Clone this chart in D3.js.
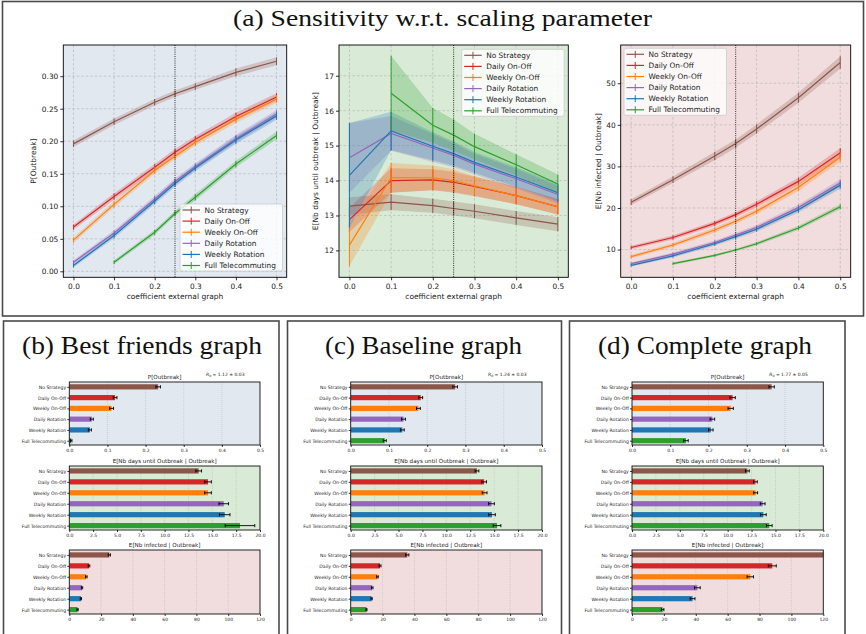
<!DOCTYPE html>
<html><head><meta charset="utf-8">
<script src="https://cdn.jsdelivr.net/npm/d3@7"></script>
<style>body{margin:0;background:#fff} svg{display:block}</style>
</head><body>
<svg id="c" width="866" height="634"></svg>
<script>
// ---------------- DATA ----------------
const strategies = ["No Strategy","Daily On-Off","Weekly On-Off","Daily Rotation","Weekly Rotation","Full Telecommuting"];
const colors = ["#8c564b","#d62728","#ff7f0e","#9467bd","#1f77b4","#2ca02c"];
const coefX = [0,0.1,0.2,0.25,0.3,0.4,0.5];
const coefTicks = [0,0.1,0.2,0.3,0.4,0.5];

const sensP = [
 [0.196,0.230,0.260,0.273,0.284,0.306,0.323],
 [0.068,0.115,0.160,0.183,0.203,0.238,0.268],
 [0.048,0.103,0.155,0.177,0.198,0.234,0.265],
 [0.014,0.059,0.111,0.138,0.161,0.204,0.242],
 [0.009,0.055,0.108,0.135,0.159,0.202,0.239],
 [null,0.014,0.060,0.089,0.114,0.165,0.209]];
const sensPErr = [
 [0.005,0.005,0.005,0.005,0.005,0.006,0.006],
 [0.004,0.005,0.005,0.005,0.005,0.006,0.006],
 [0.004,0.005,0.005,0.005,0.005,0.006,0.006],
 [0.003,0.004,0.005,0.005,0.005,0.006,0.006],
 [0.003,0.004,0.005,0.005,0.005,0.006,0.006],
 [null,0.003,0.004,0.004,0.005,0.005,0.006]];

const sensDays = [
 [13.27,13.38,13.28,13.20,13.12,12.93,12.75],
 [12.88,14.00,14.02,13.95,13.83,13.57,13.25],
 [12.15,14.08,14.08,14.00,13.85,13.57,13.25],
 [14.65,15.35,14.93,14.72,14.47,14.05,13.60],
 [14.15,15.42,14.98,14.77,14.52,14.10,13.65],
 [null,16.50,15.58,15.30,14.97,14.45,13.90]];
const sensDaysErr = [
 [0.25,0.23,0.20,0.20,0.20,0.20,0.20],
 [0.35,0.35,0.30,0.30,0.28,0.25,0.22],
 [0.60,0.42,0.35,0.32,0.28,0.25,0.22],
 [1.00,0.50,0.40,0.35,0.30,0.28,0.25],
 [1.50,0.55,0.40,0.35,0.30,0.28,0.25],
 [null,1.07,0.50,0.45,0.37,0.30,0.27]];

const sensInf = [
 [21.4,26.8,32.5,35.5,39.0,46.5,55.0],
 [10.5,12.9,16.3,18.4,20.9,26.4,33.3],
 [8.3,11.1,14.7,16.8,19.2,25.0,32.2],
 [6.6,8.9,11.7,13.5,15.3,20.1,26.0],
 [6.2,8.5,11.4,13.1,14.9,19.6,25.5],
 [null,6.6,8.6,9.9,11.4,15.2,20.3]];
const sensInfErr = [
 [0.7,0.8,1.0,1.0,1.1,1.2,1.5],
 [0.4,0.5,0.6,0.6,0.7,0.9,1.1],
 [0.4,0.5,0.6,0.6,0.7,0.9,1.1],
 [0.3,0.4,0.5,0.5,0.6,0.7,0.9],
 [0.3,0.4,0.5,0.5,0.6,0.7,0.9],
 [null,0.3,0.3,0.3,0.4,0.5,0.6]];

// bar charts
const bfP = [0.233,0.120,0.111,0.059,0.054,0.005];
const bfPErr = [0.006,0.005,0.005,0.004,0.004,0.002];
const bfDays = [13.57,14.55,14.55,16.2,16.3,17.9];
const bfDaysErr = [0.3,0.35,0.35,0.5,0.55,1.55];
const bfInf = [25.2,12.4,10.7,8.0,7.3,5.2];
const bfInfErr = [0.7,0.5,0.5,0.4,0.4,0.4];

const blP = [0.273,0.183,0.177,0.138,0.135,0.089];
const blPErr = [0.006,0.005,0.005,0.005,0.005,0.004];
const blDays = [13.2,13.95,14.0,14.72,14.77,15.3];
const blDaysErr = [0.2,0.25,0.25,0.3,0.35,0.4];
const blInf = [35.5,18.4,16.8,13.5,13.1,9.9];
const blInfErr = [1.0,0.6,0.5,0.5,0.4,0.3];

const cpP = [0.365,0.263,0.258,0.210,0.206,0.141];
const cpPErr = [0.007,0.007,0.007,0.006,0.006,0.006];
const cpDays = [12.06,12.9,12.93,13.66,13.73,14.35];
const cpDaysErr = [0.2,0.2,0.2,0.25,0.3,0.3];
const cpInf = [150,88.0,74.2,41.0,38.0,19.2];
const cpInfErr = [0,2.5,2.0,1.8,1.5,0.8];

const pTicks = [0,0.1,0.2,0.3,0.4,0.5];
const daysTicks = [0,2.5,5,7.5,10,12.5,15,17.5,20];
const infTicks = [0,20,40,60,80,100,120];

// ---------------- DRAW ----------------
const svg = d3.select("#c");
const FONT = "DejaVu Sans, sans-serif";
const SERIF = "Liberation Serif, DejaVu Serif, serif";
const BG_BLUE = "#e2e8f0", BG_GREEN = "#d9ebd6", BG_PINK = "#f1dddd";
let clipId = 0;

// frames
svg.append("rect").attr("x",2.5).attr("y",1.5).attr("width",861).attr("height",314.5)
  .attr("fill","none").attr("stroke","#4a4a4a").attr("stroke-width",1.6);
[[3.5,279],[287.5,561.5],[569.5,845]].forEach(([a,b])=>{
  svg.append("rect").attr("x",a).attr("y",321).attr("width",b-a).attr("height",330)
    .attr("fill","none").attr("stroke","#4a4a4a").attr("stroke-width",1.6);
});

svg.append("text").attr("x",233).attr("y",26).attr("font-family",SERIF).attr("font-size",24)
  .attr("textLength",419).attr("lengthAdjust","spacingAndGlyphs").attr("fill","#111")
  .text("(a) Sensitivity w.r.t. scaling parameter");
[["(b) Best friends graph",22,240],["(c) Baseline graph",325,197],["(d) Complete graph",598,214]].forEach(([t,x,w])=>{
  svg.append("text").attr("x",x).attr("y",354).attr("font-family",SERIF).attr("font-size",25)
    .attr("textLength",w).attr("lengthAdjust","spacingAndGlyphs").attr("fill","#111").text(t);
});

function styleAxis(ax, fs){
  ax.select(".domain").remove();
  ax.selectAll("text").attr("font-size",fs).attr("font-family",FONT).attr("fill","#222");
  ax.selectAll("line").attr("stroke","#000").attr("stroke-width",0.8);
}

function linePanel(c){
  const x = d3.scaleLinear().domain([-0.025,0.525]).range([c.x0,c.x1]);
  const y = d3.scaleLinear().domain(c.yDomain).range([c.y1,c.y0]);
  const g = svg.append("g");
  const id = "clip"+(clipId++);
  g.append("clipPath").attr("id",id).append("rect")
    .attr("x",c.x0).attr("y",c.y0).attr("width",c.x1-c.x0).attr("height",c.y1-c.y0);
  g.append("rect").attr("x",c.x0).attr("y",c.y0).attr("width",c.x1-c.x0).attr("height",c.y1-c.y0).attr("fill",c.bg);
  const pg = g.append("g").attr("clip-path",`url(#${id})`);
  pg.selectAll(".gx").data(coefTicks).join("line").attr("x1",d=>x(d)).attr("x2",d=>x(d))
    .attr("y1",c.y0).attr("y2",c.y1).attr("stroke","#b0b0b0").attr("stroke-width",0.6).attr("stroke-dasharray","2.5,2");
  pg.selectAll(".gy").data(c.yTicks).join("line").attr("y1",d=>y(d)).attr("y2",d=>y(d))
    .attr("x1",c.x0).attr("x2",c.x1).attr("stroke","#b0b0b0").attr("stroke-width",0.6).attr("stroke-dasharray","2.5,2");
  const series = c.vals.map((s,i)=>coefX.map((cx,j)=>({cx, v:s[j], e:c.errs[i][j]})).filter(p=>p.v!=null));
  const area = d3.area().x(d=>x(d.cx)).y0(d=>y(d.v-d.e)).y1(d=>y(d.v+d.e));
  const line = d3.line().x(d=>x(d.cx)).y(d=>y(d.v));
  series.forEach((pts,i)=>{
    pg.append("path").attr("d",area(pts)).attr("fill",colors[i]).attr("fill-opacity",0.25);
  });
  series.forEach((pts,i)=>{
    pg.append("path").attr("d",line(pts)).attr("fill","none").attr("stroke",colors[i]).attr("stroke-width",1.2);
    pg.selectAll(null).data(pts).join("line").attr("x1",d=>x(d.cx)).attr("x2",d=>x(d.cx))
      .attr("y1",d=>y(d.v-d.e)).attr("y2",d=>y(d.v+d.e)).attr("stroke",colors[i]).attr("stroke-width",1);
  });
  pg.append("line").attr("x1",x(0.25)).attr("x2",x(0.25)).attr("y1",c.y0).attr("y2",c.y1)
    .attr("stroke","#000").attr("stroke-width",0.8).attr("stroke-dasharray","1,1.2");
  g.append("rect").attr("x",c.x0).attr("y",c.y0).attr("width",c.x1-c.x0).attr("height",c.y1-c.y0)
    .attr("fill","none").attr("stroke","#000").attr("stroke-width",0.9);
  const ax = g.append("g").attr("transform",`translate(0,${c.y1})`)
    .call(d3.axisBottom(x).tickValues(coefTicks).tickSize(3).tickPadding(3).tickFormat(d3.format(".1f")));
  styleAxis(ax,7.4);
  const ay = g.append("g").attr("transform",`translate(${c.x0},0)`)
    .call(d3.axisLeft(y).tickValues(c.yTicks).tickSize(3).tickPadding(2).tickFormat(d3.format(c.fmt)));
  styleAxis(ay,7.4);
  g.append("text").attr("x",(c.x0+c.x1)/2).attr("y",299).attr("text-anchor","middle")
    .attr("font-family",FONT).attr("font-size",7.5).attr("fill","#222").text("coefficient external graph");
  g.append("text").attr("transform",`translate(${c.ylx},${(c.y0+c.y1)/2}) rotate(-90)`).attr("text-anchor","middle")
    .attr("font-family",FONT).attr("font-size",7.5).attr("fill","#222").text(c.ylabel);
  // legend
  const L = c.legX, T = c.legY;
  const lg = g.append("g");
  lg.append("rect").attr("x",L).attr("y",T).attr("width",102.5).attr("height",67).attr("rx",2)
    .attr("fill","#fff").attr("fill-opacity",0.8).attr("stroke","#ccc").attr("stroke-width",0.8);
  strategies.forEach((s,i)=>{
    const cy = T+6+i*11.1;
    lg.append("line").attr("x1",L+2.5).attr("x2",L+20).attr("y1",cy).attr("y2",cy).attr("stroke",colors[i]).attr("stroke-width",1.2);
    lg.append("line").attr("x1",L+11.25).attr("x2",L+11.25).attr("y1",cy-3.5).attr("y2",cy+3.5).attr("stroke",colors[i]).attr("stroke-width",1);
    lg.append("text").attr("x",L+24.5).attr("y",cy).attr("dy","0.35em").attr("font-family",FONT)
      .attr("font-size",7.4).attr("fill","#222").text(s);
  });
}

linePanel({x0:63.3,x1:286.7,y0:45,y1:277.3,yDomain:[-0.0092,0.348],yTicks:[0,0.05,0.1,0.15,0.2,0.25,0.3],fmt:".2f",
  vals:sensP,errs:sensPErr,bg:BG_BLUE,ylabel:"P[Outbreak]",ylx:35.5,legX:180,legY:204});
linePanel({x0:339,x1:568.3,y0:45,y1:277.3,yDomain:[11.23,17.88],yTicks:[12,13,14,15,16,17],fmt:"d",
  vals:sensDays,errs:sensDaysErr,bg:BG_GREEN,ylabel:"E[Nb days until outbreak | Outbreak]",ylx:318,legX:461.7,legY:49.3});
linePanel({x0:620.7,x1:850.7,y0:45,y1:277.3,yDomain:[3.33,59.2],yTicks:[10,20,30,40,50],fmt:"d",
  vals:sensInf,errs:sensInfErr,bg:BG_PINK,ylabel:"E[Nb infected | Outbreak]",ylx:600.5,legX:624,legY:48.3});

function barPanel(c){
  const x = d3.scaleLinear().domain([0,c.xmax]).range([c.x0,c.x1]);
  const y = d3.scaleLinear().domain([-0.45,5.4]).range([c.y0,c.y1]);
  const g = svg.append("g");
  const id = "clip"+(clipId++);
  g.append("clipPath").attr("id",id).append("rect")
    .attr("x",c.x0).attr("y",c.y0).attr("width",c.x1-c.x0).attr("height",c.y1-c.y0);
  g.append("rect").attr("x",c.x0).attr("y",c.y0).attr("width",c.x1-c.x0).attr("height",c.y1-c.y0).attr("fill",c.bg);
  const pg = g.append("g").attr("clip-path",`url(#${id})`);
  pg.selectAll(null).data(c.ticks).join("line").attr("x1",d=>x(d)).attr("x2",d=>x(d))
    .attr("y1",c.y0).attr("y2",c.y1).attr("stroke","#b8bcc4").attr("stroke-width",0.6).attr("stroke-dasharray","1,1");
  pg.selectAll(null).data(c.vals).join("rect").attr("x",c.x0).attr("y",(d,i)=>y(i)-2.6)
    .attr("width",d=>x(d)-c.x0).attr("height",5.2).attr("fill",(d,i)=>colors[i]);
  c.vals.forEach((v,i)=>{
    const e = c.errs[i]; if(!e) return;
    const yy = y(i);
    pg.append("line").attr("x1",x(v-e)).attr("x2",x(v+e)).attr("y1",yy).attr("y2",yy).attr("stroke","#000").attr("stroke-width",0.9);
    [v-e,v+e].forEach(t=>pg.append("line").attr("x1",x(t)).attr("x2",x(t)).attr("y1",yy-1.6).attr("y2",yy+1.6).attr("stroke","#000").attr("stroke-width",0.9));
  });
  g.append("rect").attr("x",c.x0).attr("y",c.y0).attr("width",c.x1-c.x0).attr("height",c.y1-c.y0)
    .attr("fill","none").attr("stroke","#111").attr("stroke-width",0.9);
  const ax = g.append("g").attr("transform",`translate(0,${c.y1})`)
    .call(d3.axisBottom(x).tickValues(c.ticks).tickSize(2).tickPadding(1.5).tickFormat(d3.format(c.fmt)));
  styleAxis(ax,4.5);
  const ay = g.append("g").attr("transform",`translate(${c.x0},0)`)
    .call(d3.axisLeft(y).tickValues([0,1,2,3,4,5]).tickSize(2).tickPadding(1.2).tickFormat(i=>strategies[i]));
  styleAxis(ay,4.6);
  g.append("text").attr("x",(c.x0+c.x1)/2).attr("y",c.y0-2.8).attr("text-anchor","middle")
    .attr("font-family",FONT).attr("font-size",5.6).attr("fill","#222").text(c.title);
  if(c.r0){
    const t = g.append("text").attr("x",c.x1-15.5).attr("y",c.y0-6.5).attr("text-anchor","end")
      .attr("font-family",FONT).attr("font-size",4.5).attr("fill","#222");
    t.append("tspan").attr("font-style","italic").text("R");
    t.append("tspan").attr("font-size",3.2).attr("dy",1).text("0");
    t.append("tspan").attr("dy",-1).text(" = " + c.r0);
  }
}

const cols = [
  {x0:69.3,x1:260,P:bfP,Pe:bfPErr,D:bfDays,De:bfDaysErr,I:bfInf,Ie:bfInfErr,r0:"1.12 \u00b1 0.03"},
  {x0:350.7,x1:542,P:blP,Pe:blPErr,D:blDays,De:blDaysErr,I:blInf,Ie:blInfErr,r0:"1.24 \u00b1 0.03"},
  {x0:632,x1:823.3,P:cpP,Pe:cpPErr,D:cpDays,De:cpDaysErr,I:cpInf,Ie:cpInfErr,r0:"1.77 \u00b1 0.05"}];
cols.forEach(c=>{
  barPanel({x0:c.x0,x1:c.x1,y0:382,y1:445,xmax:0.5,ticks:pTicks,fmt:".1f",vals:c.P,errs:c.Pe,bg:BG_BLUE,title:"P[Outbreak]",r0:c.r0});
  barPanel({x0:c.x0,x1:c.x1,y0:466,y1:530,xmax:20,ticks:daysTicks,fmt:".1f",vals:c.D,errs:c.De,bg:BG_GREEN,title:"E[Nb days until Outbreak | Outbreak]"});
  barPanel({x0:c.x0,x1:c.x1,y0:550,y1:614,xmax:120,ticks:infTicks,fmt:"d",vals:c.I,errs:c.Ie,bg:BG_PINK,title:"E[Nb infected | Outbreak]"});
});
</script>
</body></html>
